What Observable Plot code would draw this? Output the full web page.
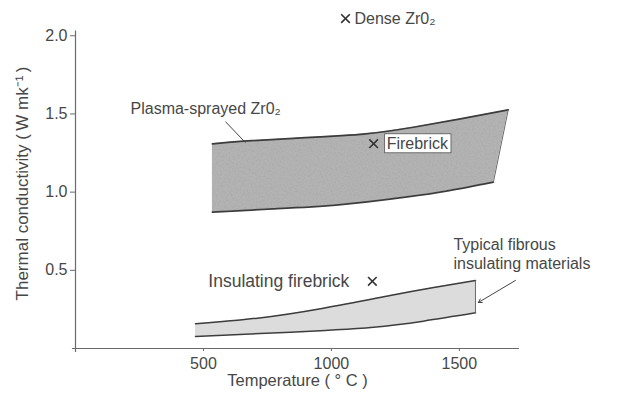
<!DOCTYPE html>
<html>
<head>
<meta charset="utf-8">
<script src="https://cdn.jsdelivr.net/npm/d3@7"></script>
<script src="https://cdn.jsdelivr.net/npm/@observablehq/plot@0.6"></script>
<style>
  body { margin: 0; background: #fff; }
  #chart svg { font-family: "Liberation Sans", Arial, Helvetica, sans-serif; }
</style>
</head>
<body>
<div id="chart"></div>
<script>
// Thermal conductivity (W mk^-1) against temperature (°C)
const plasmaUpper = [[535, 1.309], [656, 1.326], [898, 1.348], [1133, 1.373], [1320, 1.415], [1504, 1.468], [1691, 1.526]];
const plasmaLower = [[535, 0.872], [650, 0.882], [770, 0.893], [1027, 0.919], [1289, 0.968], [1460, 1.01], [1633, 1.064]];
const fibrousUpper = [[469, 0.158], [711, 0.194], [969, 0.258], [1230, 0.339], [1400, 0.39], [1563, 0.435]];
const fibrousLower = [[469, 0.077], [840, 0.104], [1000, 0.118], [1164, 0.136], [1359, 0.175], [1563, 0.228]];

const pointNames = ["Dense Zr0₂", "Firebrick", "Insulating firebrick"];
const pointTemps = [1055, 1165, 1160];
const pointConductivity = [2.11, 1.31, 0.43];

const xTicks = [500, 1000, 1500];
const yTicks = [0.5, 1.0, 1.5, 2.0];
const xLabel = "Temperature ( ° C )";
const yLabel = "Thermal conductivity (\u2009W mk⁻¹\u2009)";

// pair upper/lower edges into rows for a two-sided area
const band = (upper, lower) => upper.map((u, i) => ({x1: u[0], y1: u[1], x2: lower[i][0], y2: lower[i][1]}));
const plasma = band(plasmaUpper, plasmaLower);
const fibrous = band(fibrousUpper, fibrousLower);
const points = pointNames.map((name, i) => ({name, t: pointTemps[i], k: pointConductivity[i]}));

const ink = "#474747";
const fs = 16;
const curve = "natural";

const chart = Plot.plot({
  width: 619,
  height: 396,
  marginLeft: 75,
  marginRight: 100,
  marginTop: 4,
  marginBottom: 48,
  style: {fontSize: fs + "px", color: ink, background: "#fff"},
  x: {domain: [0, 1735]},
  y: {domain: [0, 2.2]},
  marks: [
    // bands
    Plot.area(plasma, {x1: "x1", y1: "y1", x2: "x2", y2: "y2", fill: "#b3b3b3", curve}),
    Plot.area(fibrous, {x1: "x1", y1: "y1", x2: "x2", y2: "y2", fill: "#dcdcdc", curve}),
    Plot.line(plasmaUpper, {x: d => d[0], y: d => d[1], stroke: "#3c3c3c", strokeWidth: 1.7, curve}),
    Plot.line(plasmaLower, {x: d => d[0], y: d => d[1], stroke: "#3c3c3c", strokeWidth: 1.7, curve}),
    Plot.line(fibrousUpper, {x: d => d[0], y: d => d[1], stroke: "#3c3c3c", strokeWidth: 1.5, curve}),
    Plot.line(fibrousLower, {x: d => d[0], y: d => d[1], stroke: "#3c3c3c", strokeWidth: 1.5, curve}),
    Plot.link([plasma[plasma.length - 1], fibrous[fibrous.length - 1]], {x1: "x1", y1: "y1", x2: "x2", y2: "y2", stroke: "#6a6a6a", strokeWidth: 1}),

    // axis lines
    Plot.ruleX([0], {y1: -0.025, y2: 2.03, stroke: "#6a6a6a", strokeWidth: 1.2}),
    Plot.ruleY([0], {x1: -12, x2: 1735, stroke: "#6a6a6a", strokeWidth: 1.2}),
    Plot.axisY({ticks: yTicks, tickFormat: d3.format(".1f"), tickSize: 5, tickPadding: 3, label: null, stroke: "#6a6a6a", fill: ink, fontSize: fs}),
    Plot.axisX({ticks: xTicks, tickFormat: d3.format("d"), tickSize: 3, tickPadding: 6, label: null, stroke: "#6a6a6a", fill: ink, fontSize: fs}),
    Plot.text([xLabel], {frameAnchor: "bottom", dy: 37, fill: ink, fontSize: 16.5}),
    Plot.text([yLabel], {frameAnchor: "left", textAnchor: "middle", rotate: -90, dx: -53, dy: 7, fill: ink, fontSize: 17}),

    // point materials
    Plot.dot(points, {x: "t", y: "k", symbol: "times", r: 4, stroke: "#333", strokeWidth: 1.6}),
    Plot.text(points.slice(0, 1), {x: "t", y: "k", text: "name", textAnchor: "start", dx: 9, fill: ink, fontSize: fs}),
    Plot.text(points.slice(1, 2), {x: "t", y: "k", text: "name", textAnchor: "start", dx: 13, fill: ink, fontSize: fs}),
    Plot.text(points.slice(2), {x: "t", y: "k", text: "name", textAnchor: "end", dx: -23, fill: ink, fontSize: 17.5}),

    // band labels and leaders
    Plot.text(["Plasma-sprayed Zr0₂"], {x: 215, y: 1.535, textAnchor: "start", fill: ink, fontSize: fs}),
    Plot.link([{x1: 586, y1: 1.451, x2: 664, y2: 1.317}], {x1: "x1", y1: "y1", x2: "x2", y2: "y2", stroke: "#444", strokeWidth: 1}),
    Plot.text(["Typical fibrous\ninsulating materials"], {x: 1477, y: 0.608, textAnchor: "start", lineHeight: 1.2, fill: ink, fontSize: fs}),
    Plot.arrow([{x1: 1719, y1: 0.435, x2: 1574, y2: 0.294}], {x1: "x1", y1: "y1", x2: "x2", y2: "y2", stroke: "#444", strokeWidth: 1, headLength: 6})
  ]
});

document.getElementById("chart").append(chart);

const svg = d3.select(chart);

// mottled texture on the plasma-sprayed band
const filter = svg.insert("defs", ":first-child").append("filter")
  .attr("id", "mottle").attr("x", 0).attr("y", 0).attr("width", "100%").attr("height", "100%");
filter.append("feTurbulence").attr("type", "fractalNoise").attr("baseFrequency", 0.55)
  .attr("numOctaves", 2).attr("seed", 7).attr("result", "noise");
filter.append("feColorMatrix").attr("in", "noise").attr("type", "matrix")
  .attr("values", "0 0 0 0 0.38  0 0 0 0 0.38  0 0 0 0 0.38  1.5 0 0 0 -0.6").attr("result", "spots");
filter.append("feComposite").attr("in", "spots").attr("in2", "SourceGraphic").attr("operator", "atop");
svg.select('g[aria-label="area"]').attr("filter", "url(#mottle)");

// white box behind the "Firebrick" label
svg.selectAll("text").each(function () {
  if (this.textContent === "Firebrick") {
    const b = this.getBBox();
    d3.select(this.parentNode).insert("rect", () => this)
      .attr("transform", this.getAttribute("transform"))
      .attr("x", b.x - 2).attr("y", b.y - 1)
      .attr("width", b.width + 4).attr("height", b.height + 2)
      .attr("fill", "#fff").attr("stroke", "#555").attr("stroke-width", 0.8);
  }
});
</script>
</body>
</html>
